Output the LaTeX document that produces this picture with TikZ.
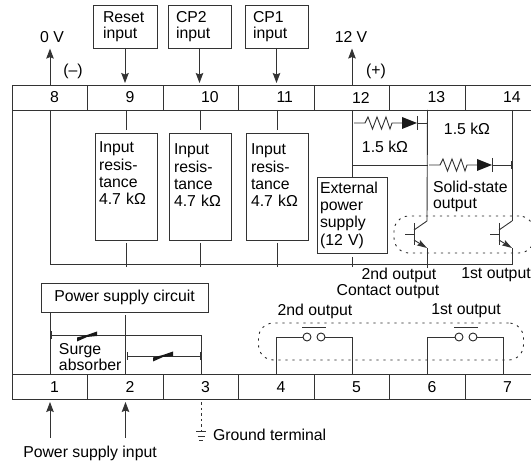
\documentclass[tikz,border=0pt]{standalone}
\usepackage{fontspec}
\setmainfont{Liberation Sans}
\usetikzlibrary{
    arrows.meta,    % For arrow styles
    positioning     % For the terminal rows
}
\tikzset{
    % Style for the terminal cells, number starts at the cell middle
    cell/.style={
        draw=black!80,
        line width=0.9pt,
        rectangle,
        outer sep=0pt,
        inner xsep=0pt,
        inner ysep=0pt,
        text width=75.5pt,
        minimum height=25pt,
        align=left,
        execute at begin node={\hspace*{37.8pt}}
    },
    % Style for the boxes with text
    box/.style={
        draw=black!80,
        line width=0.9pt,
        rectangle,
        outer sep=0pt,
        inner ysep=0pt,
        align=left
    },
    % Style for the dashed groups
    group/.style={
        draw=black!85,
        line width=0.9pt,
        dash pattern=on 2.2pt off 4.8pt,
        rectangle,
        rounded corners=15pt,
        outer sep=0pt
    },
    % Style for the contact circles
    contact/.style={
        draw=black!85,
        line width=0.9pt,
        circle,
        fill=white,
        minimum size=8pt,
        inner sep=0pt,
        outer sep=0pt
    },
    lbl/.style={inner sep=0pt, outer sep=0pt},
    wire/.style={draw=black!80, line width=0.9pt},
    % Style for the connecting arrows
    arrow/.style={
        wire,
        -{Stealth[length=10pt,width=7.5pt,inset=1.5pt]}
    },
    % Resistor with diode behind it
    resdiode/.pic={
        \draw[wire] (0,0) -- (11,0) -- (14,-6) -- (18.5,6) -- (23,-6) -- (27.5,6)
            -- (32,-6) -- (36,6) -- (38,0) -- (48,0);
        \fill[black!90] (48,-6) -- (63,0) -- (48,6) -- cycle;
        \draw[wire] (63.5,-7) -- (63.5,7);
        \coordinate (-out) at (63.5,0);
    },
    % Transistor, origin on the base bar
    transistor/.pic={
        \draw[wire] (-9,0) -- (0,0);
        \draw[wire] (0,-11) -- (0,11);
        \draw[wire] (0,-4) -- (13,-13);
        \draw[wire,-{Stealth[length=10pt,width=6pt,inset=1.5pt]}] (0,6) -- (13,14);
        \coordinate (-c) at (13,-13);
        \coordinate (-e) at (13,14);
    },
    % Surge absorber on a line
    varistor/.pic={
        \fill[black!90] (-10,1.5) -- (-10,5.5) -- (0,1) -- (10,0) -- (10,-4.5) -- (0,-1) -- cycle;
    }
}
\begin{document}
\begin{tikzpicture}[x=1pt, y=-1pt, font=\fontsize{15.8}{17.3}\selectfont]
    \useasboundingbox (0,0) rectangle (531,462);

    % --- TOP ROW ---
    \node (t8)  [cell] at (50,97.5) {8};
    \node (t9)  [cell, right=0pt of t8]  {9};
    \node (t10) [cell, right=0pt of t9]  {10};
    \node (t11) [cell, right=0pt of t10] {11};
    \node (t12) [cell, right=0pt of t11] {12};
    \node (t13) [cell, right=0pt of t12] {13};
    \node (t14) [cell, right=0pt of t13] {14};

    % --- BOTTOM ROW ---
    \node (t1) [cell] at (50,387) {1};
    \node (t2) [cell, right=0pt of t1] {2};
    \node (t3) [cell, right=0pt of t2] {3};
    \node (t4) [cell, right=0pt of t3] {4};
    \node (t5) [cell, right=0pt of t4] {5};
    \node (t6) [cell, right=0pt of t5] {6};
    \node (t7) [cell, right=0pt of t6] {7};

    \draw[wire] (t8.south west) -- (t1.north west);
    \coordinate (bus) at (0,264);

    % --- Voltages ---
    \node (zerov)   [lbl] at (52,37) {0 V};
    \node (twelvev) [lbl] at (351,37) {12 V};
    \node (minus)   [lbl] at (73,71) {(--)};
    \node (plus)    [lbl] at (376,71) {(+)};
    \draw[arrow, shorten >=6pt] (t8.north) -- (t8.north |- zerov.south);
    \draw[arrow, shorten >=6pt] (t12.north) -- (t12.north |- twelvev.south);

    % --- Input boxes on top ---
    \node (reset) [box, inner xsep=10pt, text width=44pt, minimum height=43pt] at (125,26.5) {Reset\\[-1.2pt]input};
    \node (cptwo) [box, inner xsep=8pt, text width=47pt, minimum height=43pt] at (199.5,26.5) {CP2\\[-1.2pt]input};
    \node (cpone) [box, inner xsep=8pt, text width=47pt, minimum height=43pt] at (276.5,26.5) {CP1\\[-1.2pt]input};
    \draw[arrow, shorten >=2pt] (reset.south) -- (reset.south |- t9.north);
    \draw[arrow, shorten >=2pt] (cptwo.south) -- (cptwo.south |- t10.north);
    \draw[arrow, shorten >=2pt] (cpone.south) -- (cpone.south |- t11.north);

    % --- Input resistance ---
    \node (res9)  [box, anchor=north, inner xsep=4pt, text width=54pt, text height=20pt, text depth=87pt] at (126,133) {Input\\resis-\\tance\\4.7 kΩ};
    \node (res10) [box, anchor=north, inner xsep=5pt, text width=52pt, text height=22pt, text depth=85pt] at (200,133) {Input\\resis-\\tance\\4.7 kΩ};
    \node (res11) [box, anchor=north, inner xsep=5pt, text width=52pt, text height=22pt, text depth=85pt] at (277,133) {Input\\resis-\\tance\\4.7 kΩ};

    \draw[wire, shorten >=3pt] (res9.north |- t9.south) -- (res9.north);
    \draw[wire, shorten >=3pt] (res10.north |- t10.south) -- (res10.north);
    \draw[wire, shorten >=3pt] (res11.north |- t11.south) -- (res11.north);
    \draw[wire, shorten <=3pt, shorten >=-3pt] (res9.south) -- (res9.south |- bus);
    \draw[wire, shorten <=3pt, shorten >=-3pt] (res10.south) -- (res10.south |- bus);
    \draw[wire, shorten <=3pt, shorten >=-3pt] (res11.south) -- (res11.south |- bus);

    % --- External supply and solid-state output ---
    \node (ext) [box, inner xsep=3pt, text width=64pt, minimum height=76pt] at (352,215) {External\\power\\supply\\(12 V)};
    \coordinate (j12) at (t12.south |- 0,165);
    \draw[wire] (t12.south) -- (ext.north);
    \draw[wire] (j12) -- (j12 -| t13.south);
    \draw[wire, shorten <=4pt, shorten >=-3pt] (ext.south) -- (ext.south |- bus);

    \pic (da) at (354,123) {resdiode};
    \pic (db) at (429,165) {resdiode};
    \node (oneka) [lbl] at (385,147) {1.5 kΩ};
    \node (onekb) [lbl] at (467,129) {1.5 kΩ};
    \node (solid) [lbl, anchor=west, align=left] at (433,196) {Solid-state\\[-1.2pt]output};

    \pic (qb) at (414,234) {transistor};
    \pic (qa) at (499,234) {transistor};
    \node (qgroup) [group, minimum width=140pt, minimum height=37pt] at (464,234.5) {};

    \draw[wire, -{Bar[width=7pt,length=1pt]}] (da-out) -- (da-out -| t13.south);
    \draw[wire, -{Bar[width=7pt,length=1pt]}] (db-out) -- (db-out -| qa-c);
    \draw[wire] (t13.south) -- (qb-c);
    \draw[wire] (qa-c |- t14.south) -- (qa-c);
    \draw[wire, shorten >=-4pt] (qb-e) -- (qb-e |- bus);
    \draw[wire] (t8.south) -- (t8.south |- bus) -- (qa-e |- bus) -- (qa-e);

    \node (outb) [lbl] at (399,275) {2nd output};
    \node (outa) [lbl] at (496,275) {1st output};
    \node (cout) [lbl] at (388,292) {Contact output};

    % --- Contact output ---
    \node (conb) [lbl] at (315,311) {2nd output};
    \node (cona) [lbl] at (466,311) {1st output};
    \node (cgroup) [group, minimum width=265pt, minimum height=37pt] at (391,341.5) {};
    \node (cba) [contact] at (307,337) {};
    \node (cbb) [contact] at (321,337) {};
    \node (caa) [contact] at (459,337) {};
    \node (cab) [contact] at (473,337) {};
    \draw[wire] (t4.north) |- (cba);
    \draw[wire] (cbb) -| (t5.north);
    \draw[wire] (t6.north) |- (caa);
    \draw[wire] (cab) -| (t7.north);
    \draw[wire] ([xshift=-5pt,yshift=10pt]cba.center) -- ([xshift=5pt,yshift=10pt]cbb.center);
    \draw[wire] ([xshift=-5pt,yshift=10pt]caa.center) -- ([xshift=5pt,yshift=10pt]cab.center);

    % --- Power supply ---
    \node (psu) [box, minimum width=167pt, minimum height=29pt] at (124.5,297.5) {Power supply circuit};
    \draw[wire] (t1.north) -- (t1.north |- psu.south);
    \draw[wire, shorten >=3pt] (t2.north) -- (t2.north |- psu.south);

    \coordinate (sga) at (51,335);
    \coordinate (sgb) at (127,356);
    \draw[wire, {Bar[width=7pt,length=1pt]}-] (sga) -- (sga -| t3.north) -- (t3.north);
    \draw[wire, {Bar[width=7pt,length=1pt]}-{Bar[width=7pt,length=1pt]}] (sgb) -- (sgb -| t3.north);
    \pic at (87,336) {varistor};
    \pic at (163,356) {varistor};
    \node (surge) [lbl, anchor=west, align=left] at (59,357) {Surge\\[-1.2pt]absorber};

    % --- Below the bottom row ---
    \node (pin) [lbl] at (90,453) {Power supply input};
    \draw[arrow, shorten <=8pt, shorten >=2.5pt] (t1.south |- pin.north) -- (t1.south);
    \draw[arrow, shorten <=8pt, shorten >=2.5pt] (t2.south |- pin.north) -- (t2.south);

    \node (gnd) [lbl, anchor=west] at (213,435) {Ground terminal};
    \coordinate (gp) at (t3.south |- 0,431.5);
    \draw[wire, dash pattern=on 2.5pt off 3pt, shorten <=3pt] (t3.south) -- (gp);
    \draw[wire] ([xshift=-5pt]gp) -- ([xshift=5pt]gp);
    \draw[wire] ([xshift=-3.5pt,yshift=-4.5pt]gp) -- ([xshift=3.5pt,yshift=-4.5pt]gp);
    \draw[wire] ([xshift=-2pt,yshift=-9pt]gp) -- ([xshift=2pt,yshift=-9pt]gp);
\end{tikzpicture}
\end{document}
